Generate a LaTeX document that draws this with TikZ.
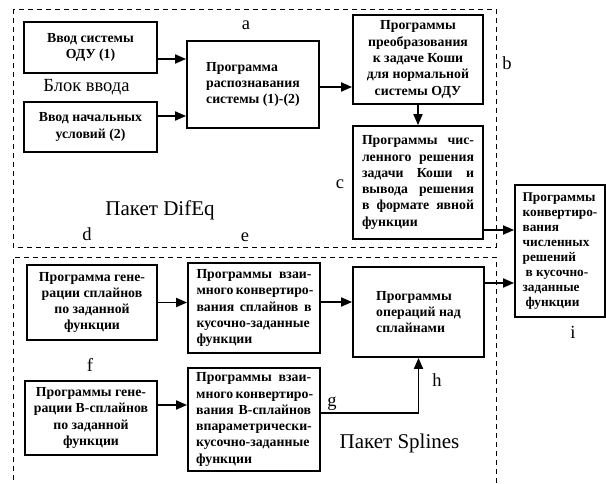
\documentclass[tikz,border=0pt]{standalone}
\usepackage{fontspec}
\setmainfont{Liberation Serif}
\usetikzlibrary{arrows.meta}
\newcommand{\jl}[2]{\makebox[#1][s]{#2}}
\begin{document}
\begin{tikzpicture}[x=1pt,y=-1pt,
  box/.style={draw,line width=1.8pt,inner sep=2pt,font=\bfseries\fontsize{13.8}{16.3}\selectfont},
  arr/.style={line width=1.8pt,-{Triangle[length=11pt,width=9pt]}},
  frame/.style={line width=0.8pt,dash pattern=on 5pt off 4pt},
  lbl/.style={font=\fontsize{18.5}{20}\selectfont,inner sep=0pt},
  pkg/.style={font=\fontsize{21}{23}\selectfont,inner sep=0pt}]
\useasboundingbox (0,0) rectangle (606,483);
% dashed frames
\draw[frame] (13,9) rectangle (496,247);
\draw[frame] (13,480) -- (13,257) -- (496,257) -- (496,483);
% boxes
\node[box,minimum width=133pt,minimum height=51pt,align=center] (b1) at (90.5,47.5) {Ввод системы\\ОДУ (1)};
\node[box,minimum width=133pt,minimum height=50pt,align=center] (b2) at (90.5,127) {Ввод начальных\\условий (2)};
\node[box,minimum width=132pt,minimum height=87pt,align=left] (b3) at (253,84.5) {Программа\\распознавания\\системы (1)-(2)};
\node[box,minimum width=130pt,minimum height=89pt,align=center] (b4) at (418,59.5) {Программы\\преобразования\\к задаче Коши\\для нормальной\\системы ОДУ};
\node[box,minimum width=130pt,minimum height=113pt,align=left] (b5) at (418,182.5) {\jl{112pt}{Программы чис-}\\\jl{112pt}{ленного решения}\\\jl{112pt}{задачи Коши и}\\\jl{112pt}{вывода решения}\\\jl{112pt}{в формате явной}\\функции};
\node[box,minimum width=90pt,minimum height=132pt,align=left,font=\bfseries\fontsize{13.3}{15}\selectfont] (bi) at (560,251) {Программы\\конвертиро-\\вания\\численных\\решений\\\hspace*{3pt}в кусочно-\\заданные\\\hspace*{3pt}функции};
\node[box,minimum width=130pt,minimum height=75pt,align=center] (b6) at (92,302.5) {Программа гене-\\рации сплайнов\\по заданной\\функции};
\node[box,minimum width=132pt,minimum height=74pt,align=center] (b7) at (91,418) {Программы гене-\\рации B-сплайнов\\по заданной\\функции};
\node[box,minimum width=132pt,minimum height=90pt,align=left] (b8) at (254,308) {\jl{115pt}{Программы взаи-}\\\jl{115pt}{много конвертиро-}\\\jl{115pt}{вания сплайнов в}\\кусочно-заданные\\функции};
\node[box,minimum width=132pt,minimum height=103pt,align=left] (b9) at (254,419.5) {\jl{115pt}{Программы взаи-}\\\jl{115pt}{много конвертиро-}\\\jl{115pt}{вания B-сплайнов}\\впараметрически-\\кусочно-заданные\\функции};
\node[box,minimum width=131pt,minimum height=90pt,align=left] (b10) at (418.5,312) {Программы\\операций над\\сплайнами};
% arrows
\draw[arr] ([yshift=-11.5pt]b1.east) coordinate (s1) -- (s1 -| b3.west);
\draw[arr] ([yshift=11pt]b2.east) coordinate (s2) -- (s2 -| b3.west);
\draw[arr] ([yshift=-2.5pt]b3.east) coordinate (s3) -- (s3 -| b4.west);
\draw[arr] (b4.south) -- (b5.north);
\draw[arr] ([yshift=-47.5pt]b5.east) coordinate (s5) -- (s5 -| bi.west);
\draw[arr] ([yshift=29pt]b10.east) coordinate (s10) -- (s10 -| bi.west);
\draw[arr] (b6.east) coordinate (s6) -- (s6 -| b8.west);
\draw[arr] ([yshift=13pt]b7.east) coordinate (s7) -- (s7 -| b9.west);
\draw[arr] ([yshift=6pt]b8.east) coordinate (s8) -- (s8 -| b10.west);
\draw[arr] ([yshift=6.5pt]b9.east) -| (b10.south);
% labels
\node[lbl] (la) at (246,25) {a};
\node[lbl] (lb) at (507,63) {b};
\node[lbl] (lc) at (340,184) {c};
\node[lbl] (ld) at (87,234) {d};
\node[lbl] (le) at (245,237) {e};
\node[lbl] (lf) at (90,365) {f};
\node[lbl] (lg) at (332,404) {g};
\node[lbl] (lh) at (437,380) {h};
\node[lbl] (li) at (573,332) {i};
\node[lbl] (blk) at (86.5,87) {Блок ввода};
\node[pkg] (pd) at (160,210) {Пакет DifEq};
\node[pkg] (ps) at (399.5,443) {Пакет Splines};
\end{tikzpicture}
\end{document}
